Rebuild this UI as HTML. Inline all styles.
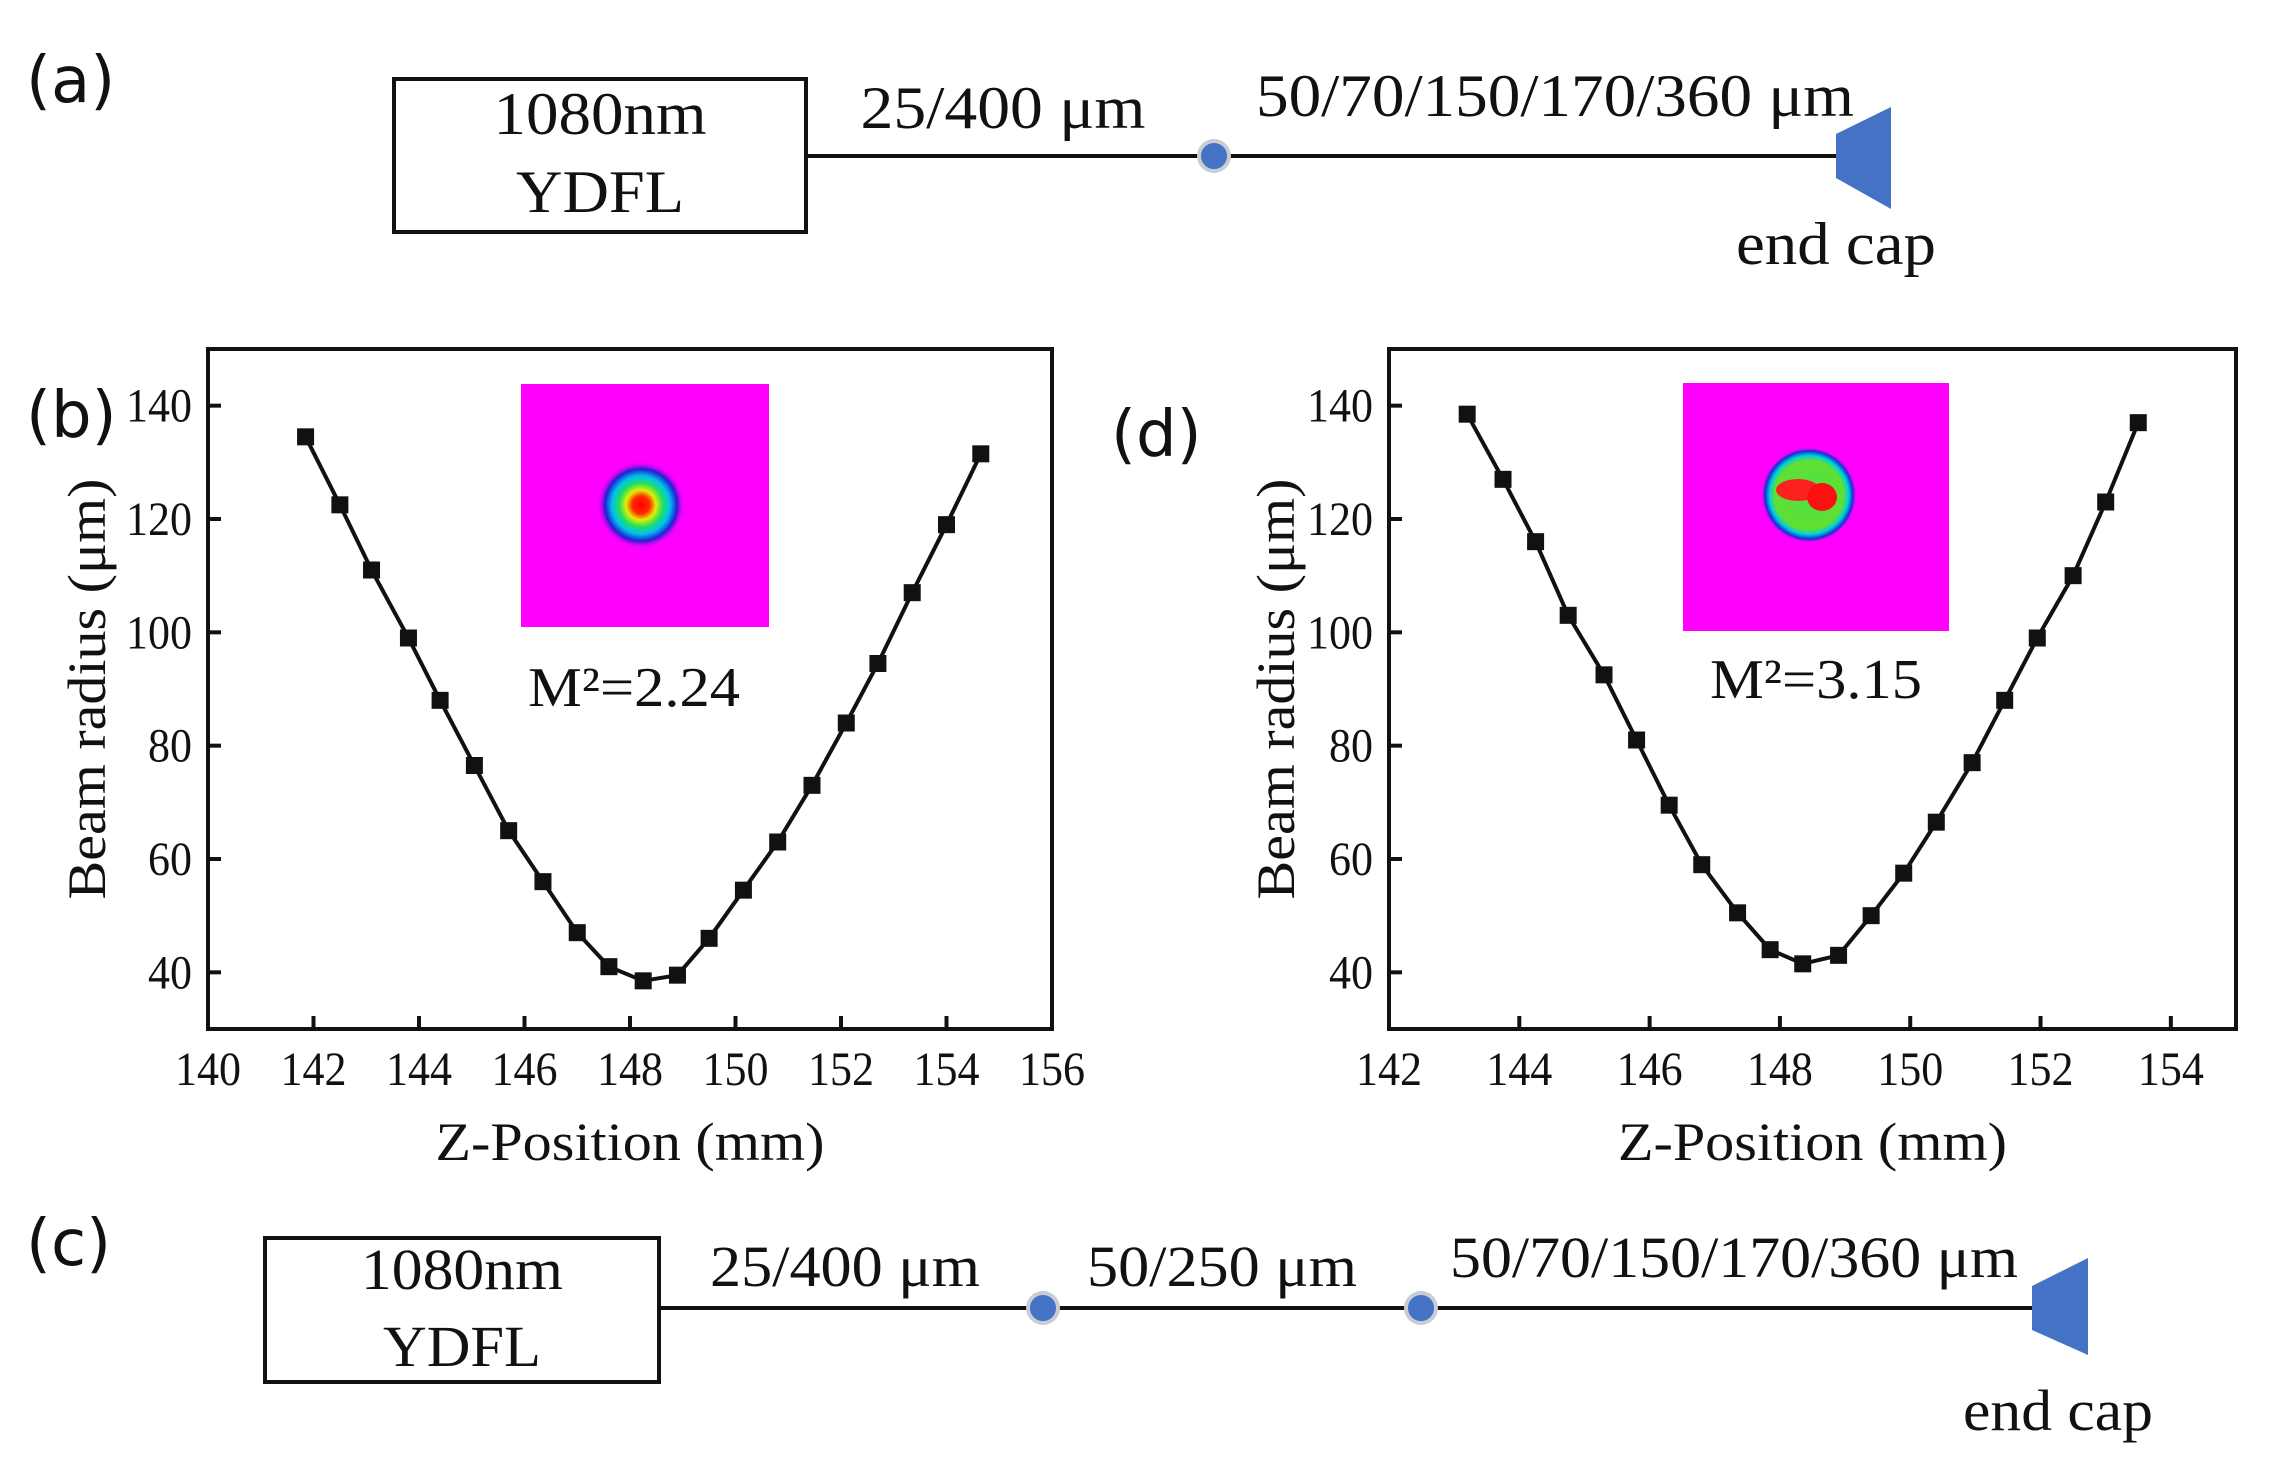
<!DOCTYPE html>
<html><head><meta charset="utf-8"><style>
html,body{margin:0;padding:0;background:#fff;}
svg{display:block;}
.serif{font-family:"Liberation Serif",serif;fill:#111;}
.sans{font-family:"DejaVu Sans","Liberation Sans",sans-serif;fill:#111;}
</style></head><body>
<svg id="fig" width="2279" height="1476" viewBox="0 0 2279 1476" xmlns="http://www.w3.org/2000/svg">
<defs>
<radialGradient id="beamB" cx="50%" cy="50%" r="50%">
<stop offset="0" stop-color="#ff0000"/><stop offset="0.2" stop-color="#ff2a00"/><stop offset="0.34" stop-color="#e0f000"/><stop offset="0.5" stop-color="#20e060"/><stop offset="0.66" stop-color="#00c0f0"/><stop offset="0.82" stop-color="#2020d0"/><stop offset="1" stop-color="#ff00ff" stop-opacity="0"/>
</radialGradient>
<radialGradient id="beamD" cx="50%" cy="50%" r="50%">
<stop offset="0" stop-color="#50e050"/><stop offset="0.72" stop-color="#60e030"/><stop offset="0.82" stop-color="#00d0e0"/><stop offset="0.92" stop-color="#1030d0"/><stop offset="1" stop-color="#ff00ff" stop-opacity="0"/>
</radialGradient>
</defs>

<text class="sans" x="26" y="102" font-size="64">(a)</text>
<text class="sans" x="26" y="437" font-size="64">(b)</text>
<text class="sans" x="26" y="1265" font-size="64">(c)</text>
<text class="sans" x="1111" y="456" font-size="64">(d)</text>

<g>
<rect x="394" y="79" width="412" height="153" fill="none" stroke="#111" stroke-width="4"/>
<text class="serif" x="600" y="134" font-size="60" text-anchor="middle" textLength="213" lengthAdjust="spacingAndGlyphs">1080nm</text>
<text class="serif" x="600" y="212" font-size="60" text-anchor="middle" textLength="168" lengthAdjust="spacingAndGlyphs">YDFL</text>
<line x1="806" y1="156" x2="1838" y2="156" stroke="#111" stroke-width="4"/>
<circle cx="1214" cy="156" r="15" fill="#4472c4" stroke="#c8ccd4" stroke-width="4"/>
<text class="serif" x="1003" y="128" font-size="60" text-anchor="middle" textLength="285" lengthAdjust="spacingAndGlyphs">25/400 μm</text>
<text class="serif" x="1555" y="116" font-size="60" text-anchor="middle" textLength="598" lengthAdjust="spacingAndGlyphs">50/70/150/170/360 μm</text>
<polygon points="1836,134 1891,107 1891,209 1836,178" fill="#4472c4"/>
<text class="serif" x="1836" y="264" font-size="60" text-anchor="middle" textLength="200" lengthAdjust="spacingAndGlyphs">end cap</text>
</g>

<g>
<rect x="265" y="1238" width="394" height="144" fill="none" stroke="#111" stroke-width="4"/>
<text class="serif" x="462" y="1289" font-size="58" text-anchor="middle" textLength="202" lengthAdjust="spacingAndGlyphs">1080nm</text>
<text class="serif" x="462" y="1366" font-size="58" text-anchor="middle" textLength="158" lengthAdjust="spacingAndGlyphs">YDFL</text>
<line x1="659" y1="1308" x2="2034" y2="1308" stroke="#111" stroke-width="4"/>
<circle cx="1043" cy="1308" r="15" fill="#4472c4" stroke="#c8ccd4" stroke-width="4"/>
<circle cx="1421" cy="1308" r="15" fill="#4472c4" stroke="#c8ccd4" stroke-width="4"/>
<text class="serif" x="845" y="1286" font-size="58" text-anchor="middle" textLength="270" lengthAdjust="spacingAndGlyphs">25/400 μm</text>
<text class="serif" x="1222" y="1286" font-size="58" text-anchor="middle" textLength="270" lengthAdjust="spacingAndGlyphs">50/250 μm</text>
<text class="serif" x="1734" y="1277" font-size="58" text-anchor="middle" textLength="568" lengthAdjust="spacingAndGlyphs">50/70/150/170/360 μm</text>
<polygon points="2032,1286 2088,1258 2088,1355 2032,1330" fill="#4472c4"/>
<text class="serif" x="2058" y="1430" font-size="58" text-anchor="middle" textLength="190" lengthAdjust="spacingAndGlyphs">end cap</text>
</g>

<rect x="521" y="384" width="248" height="243" fill="#ff00ff"/>
<circle cx="641" cy="505" r="44" fill="url(#beamB)"/>
<rect x="1683" y="383" width="266" height="248" fill="#ff00ff"/>
<circle cx="1809" cy="495" r="48" fill="url(#beamD)"/>
<ellipse cx="1798" cy="490" rx="22" ry="11" fill="#ff2020"/>
<ellipse cx="1822" cy="497" rx="15" ry="14" fill="#ff1010"/>
<text class="serif" x="634" y="706" font-size="56" text-anchor="middle" textLength="212" lengthAdjust="spacingAndGlyphs">M²=2.24</text>
<text class="serif" x="1816" y="698" font-size="56" text-anchor="middle" textLength="212" lengthAdjust="spacingAndGlyphs">M²=3.15</text>

<g id="chartB"></g>
<g id="chartD"></g>
</svg>
<script>
const xB = [141.85,142.5,143.1,143.8,144.4,145.05,145.7,146.35,147.0,147.6,148.25,148.9,149.5,150.15,150.8,151.45,152.1,152.7,153.35,154.0,154.65];
const yB = [134.5,122.5,111,99,88,76.5,65,56,47,41,38.5,39.5,46,54.5,63,73,84,94.5,107,119,131.5];
const xTicksB = [140,142,144,146,148,150,152,154,156];
const xD = [143.2,143.75,144.25,144.75,145.3,145.8,146.3,146.8,147.35,147.85,148.35,148.9,149.4,149.9,150.4,150.95,151.45,151.95,152.5,153.0,153.5];
const yD = [138.5,127,116,103,92.5,81,69.5,59,50.5,44,41.5,43,50,57.5,66.5,77,88,99,110,123,137];
const xTicksD = [142,144,146,148,150,152,154];
const yTicks = [40,60,80,100,120,140];

const NS='http://www.w3.org/2000/svg';
function mk(parent, tag, attrs){const e=document.createElementNS(NS,tag);for(const k in attrs)e.setAttribute(k,attrs[k]);parent.appendChild(e);return e;}

function drawChart(g, xs, ys, xTicks, xmin, xmax, L, R, labelX, key){
  const T=349,B=1029, ymin=30, ymax=150;
  const sx=v=>L+(v-xmin)/(xmax-xmin)*(R-L);
  const sy=v=>B-(v-ymin)/(ymax-ymin)*(B-T);
  const frame=mk(g,'rect',{x:L,y:T,width:R-L,height:B-T,fill:'none',stroke:'#111','stroke-width':4});
  
  
  xTicks.forEach(t=>{
    const tk=mk(g,'line',{x1:sx(t),x2:sx(t),y1:B,y2:B-13,stroke:'#111','stroke-width':4});
    
    
    const tl=mk(g,'text',{x:sx(t),y:B+56,'font-size':48,'text-anchor':'middle',class:'serif',textLength:66,lengthAdjust:'spacingAndGlyphs'});
    tl.textContent=t;
    
    
  });
  yTicks.forEach(t=>{
    const tk=mk(g,'line',{x1:L,x2:L+13,y1:sy(t),y2:sy(t),stroke:'#111','stroke-width':4});
    
    
    const w=t>=100?66:44;
    const tl=mk(g,'text',{x:L-16,y:sy(t)+16,'font-size':48,'text-anchor':'end',class:'serif',textLength:w,lengthAdjust:'spacingAndGlyphs'});
    tl.textContent=t;
    
    
  });
  const xt=mk(g,'text',{x:(L+R)/2,y:1160,'font-size':54,'text-anchor':'middle',class:'serif',textLength:389,lengthAdjust:'spacingAndGlyphs'});
  xt.textContent='Z-Position (mm)';
  
  
  const cy=(T+B)/2, cx=labelX;
  const yt=mk(g,'text',{x:cx,y:cy,'font-size':54,'text-anchor':'middle',class:'serif',textLength:421,lengthAdjust:'spacingAndGlyphs',transform:'rotate(-90 '+cx+' '+cy+') translate(0 18)'});
  yt.textContent='Beam radius (μm)';
  
  
  const pts=xs.map((x,i)=>sx(x)+','+sy(ys[i])).join(' ');
  const line=mk(g,'polyline',{points:pts,fill:'none',stroke:'#111','stroke-width':4});
  
  
  xs.forEach((x,i)=>{
    const m=mk(g,'rect',{x:sx(x)-8.5,y:sy(ys[i])-8.5,width:17,height:17,fill:'#111'});
    
    
  });
}
drawChart(document.getElementById('chartB'), xB, yB, xTicksB, 140, 156, 208, 1052, 87, 'b');
drawChart(document.getElementById('chartD'), xD, yD, xTicksD, 142, 155, 1389, 2236, 1276, 'd');
</script>
</body></html>
